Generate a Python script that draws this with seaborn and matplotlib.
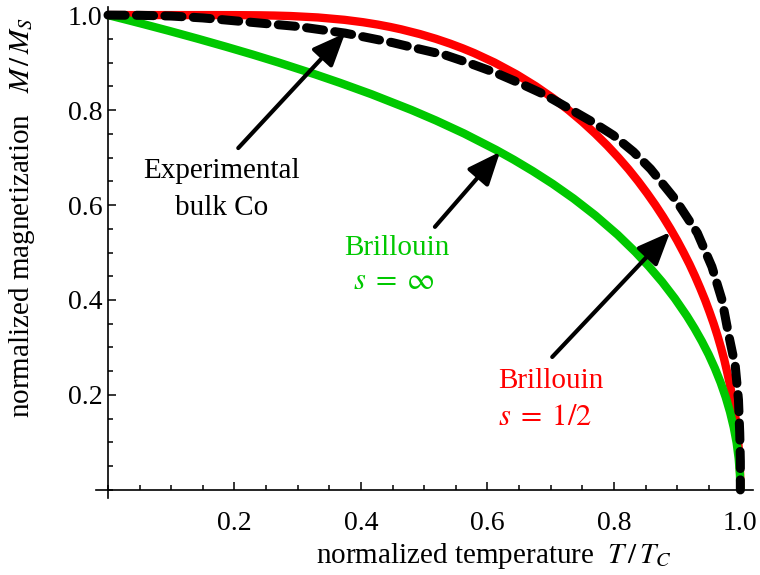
import matplotlib
matplotlib.use("Agg")
import matplotlib.pyplot as plt
import seaborn as sns
from matplotlib.ticker import FixedLocator, MultipleLocator

# ---- data ----
# Brillouin s = 1/2
t_s_half = [0.0, 0.100, 0.164, 0.202, 0.241, 0.263, 0.289, 0.332, 0.374, 0.4032,
            0.4265, 0.4463, 0.4636, 0.4933, 0.5186, 0.5408, 0.5608, 0.5790, 0.6113,
            0.6462, 0.6767, 0.7038, 0.7282, 0.7504, 0.7708, 0.7897, 0.8071, 0.8234,
            0.8384, 0.8524, 0.8656, 0.8779, 0.8894, 0.9002, 0.9102, 0.9197, 0.9284,
            0.9365, 0.9442, 0.9512, 0.9578, 0.9638, 0.9693, 0.9744, 0.9788, 0.9830,
            0.9866, 0.9897, 0.9925, 0.99477, 0.9967, 0.99812, 0.99917, 0.99979, 1.0]
m_s_half = [1.0, 1.0, 0.99999, 0.9999, 0.9995, 0.999, 0.998, 0.995, 0.99, 0.985,
            0.98, 0.975, 0.97, 0.96, 0.95, 0.94, 0.93, 0.92, 0.90,
            0.875, 0.85, 0.825, 0.80, 0.775, 0.75, 0.725, 0.70, 0.675,
            0.65, 0.625, 0.60, 0.575, 0.55, 0.525, 0.50, 0.475, 0.45,
            0.425, 0.40, 0.375, 0.35, 0.325, 0.30, 0.275, 0.25, 0.225,
            0.20, 0.175, 0.15, 0.125, 0.10, 0.075, 0.05, 0.025, 0.0]
# Brillouin s = infinity
t_s_inf = [0.0, 0.0297, 0.0588, 0.0967, 0.1425, 0.1867, 0.2292, 0.270, 0.328, 0.3673,
           0.4167, 0.480, 0.5187, 0.563, 0.6138, 0.6418, 0.6716, 0.7032, 0.7363,
           0.7707, 0.806, 0.8344, 0.8555, 0.8763, 0.8963, 0.9155, 0.9276, 0.9391,
           0.9499, 0.9598, 0.9688, 0.9768, 0.9837, 0.9895, 0.9941, 0.9973, 0.9993, 1.0]
m_s_inf = [1.0, 0.99, 0.98, 0.9667, 0.95, 0.9333, 0.9167, 0.90, 0.875, 0.8571,
           0.8333, 0.8001, 0.778, 0.7507, 0.7161, 0.6953, 0.6716, 0.6446, 0.6136,
           0.5780, 0.5373, 0.5006, 0.4705, 0.4381, 0.4034, 0.3662, 0.3401, 0.313,
           0.2850, 0.2559, 0.2261, 0.1954, 0.1640, 0.1319, 0.0994, 0.0665, 0.0333, 0.0]
# Experimental bulk Co
t_exp = [0.0, 0.05, 0.10, 0.15, 0.20, 0.25, 0.30, 0.375, 0.45, 0.494, 0.533, 0.573,
         0.612, 0.652, 0.691, 0.728, 0.766, 0.799, 0.831, 0.858, 0.897, 0.932, 0.955,
         0.971, 0.981, 0.992, 0.997, 0.999, 1.0, 1.0]
m_exp = [1.0, 0.9995, 0.998, 0.994, 0.988, 0.982, 0.976, 0.962, 0.942, 0.928, 0.916,
         0.898, 0.879, 0.856, 0.832, 0.804, 0.775, 0.747, 0.712, 0.676, 0.612, 0.541,
         0.470, 0.400, 0.330, 0.260, 0.190, 0.120, 0.060, 0.0]

x_ticks = [0.2, 0.4, 0.6, 0.8, 1.0]
x_tick_labels = ["0.2", "0.4", "0.6", "0.8", "1.0"]
y_ticks = [0.2, 0.4, 0.6, 0.8, 1.0]
y_tick_labels = ["0.2", "0.4", "0.6", "0.8", "1.0"]

RED = "#ff0000"
GREEN = "#00c800"

sns.set_style("white")
plt.rcParams["font.family"] = ["Liberation Serif", "DejaVu Serif"]
plt.rcParams["mathtext.fontset"] = "stix"
for k in ["text.color", "axes.labelcolor", "xtick.color", "ytick.color", "axes.edgecolor"]:
    plt.rcParams[k] = "black"

fig = plt.figure(figsize=(7.6, 5.75), dpi=100)
ax = fig.add_axes([0.1263, 0.1339, 0.8645, 0.8539])

sns.lineplot(x=t_s_half, y=m_s_half, ax=ax, color=RED, linewidth=6, sort=False,
             estimator=None, solid_capstyle="butt", solid_joinstyle="round",
             clip_on=False, zorder=3)
sns.lineplot(x=t_s_inf, y=m_s_inf, ax=ax, color=GREEN, linewidth=6, sort=False,
             estimator=None, solid_capstyle="butt", solid_joinstyle="round",
             clip_on=False, zorder=4)
sns.lineplot(x=t_exp, y=m_exp, ax=ax, color="black", linewidth=6.5, sort=False,
             estimator=None, linestyle=(0, (1.9, 1.25)), dash_capstyle="round",
             dash_joinstyle="round", clip_on=False, zorder=5)

ax.set_xlim(-0.019, 1.02)
ax.set_ylim(-0.017, 1.017)
for s in ["top", "right"]:
    ax.spines[s].set_visible(False)
ax.spines["left"].set_position(("data", 0))
ax.spines["bottom"].set_position(("data", 0))
for s in ["left", "bottom"]:
    ax.spines[s].set_linewidth(1.2)
    ax.spines[s].set_color("black")
    ax.spines[s].set_zorder(2)

ax.xaxis.set_major_locator(FixedLocator(x_ticks))
ax.set_xticklabels(x_tick_labels)
ax.yaxis.set_major_locator(FixedLocator(y_ticks))
ax.set_yticklabels(y_tick_labels)
ax.xaxis.set_minor_locator(MultipleLocator(0.05))
ax.yaxis.set_minor_locator(MultipleLocator(0.05))
ax.tick_params(which="both", direction="in", bottom=True, left=True, top=False,
               right=False, color="black", width=1.1)
ax.tick_params(which="major", length=5.5, labelsize=20)
ax.tick_params(which="minor", length=3.5)
ax.tick_params(axis="x", which="major", pad=15)
ax.tick_params(axis="y", which="major", pad=4)

ax.set_xlabel(r"normalized temperature  $T\,/\,T_C$", fontsize=21)
ax.xaxis.set_label_coords(0.606, -0.118)
ax.xaxis.label.set_va("center")
ax.set_ylabel(r"normalized magnetization   $M\,/\,M_S$", fontsize=21)
ax.yaxis.set_label_coords(-0.113, 0.571)
ax.yaxis.label.set_va("center")

arrow_kw = dict(arrowstyle="-|>,head_length=1.0,head_width=0.42", lw=3,
                color="black", mutation_scale=20, shrinkA=0, shrinkB=0)
ax.annotate("", xy=(0.375, 0.962), xytext=(0.206, 0.72), arrowprops=arrow_kw, zorder=6)
ax.annotate("", xy=(0.620, 0.712), xytext=(0.517, 0.554), arrowprops=arrow_kw, zorder=6)
ax.annotate("", xy=(0.889, 0.543), xytext=(0.7025, 0.28), arrowprops=arrow_kw, zorder=6)

ax.text(0.180, 0.657, "Experimental", ha="center", va="baseline", fontsize=21)
ax.text(0.180, 0.579, "bulk Co", ha="center", va="baseline", fontsize=21)
ax.text(0.457, 0.495, "Brillouin", ha="center", va="baseline", fontsize=21, color=GREEN)
ax.text(0.4525, 0.423, r"$s\;=\;\infty$", ha="center", va="baseline", fontsize=22,
        color=GREEN)
ax.text(0.701, 0.215, "Brillouin", ha="center", va="baseline", fontsize=21, color=RED)
ax.text(0.691, 0.137, r"$s\;=\;1/2$", ha="center", va="baseline", fontsize=22,
        color=RED)

fig.savefig("out.png", dpi=100)
